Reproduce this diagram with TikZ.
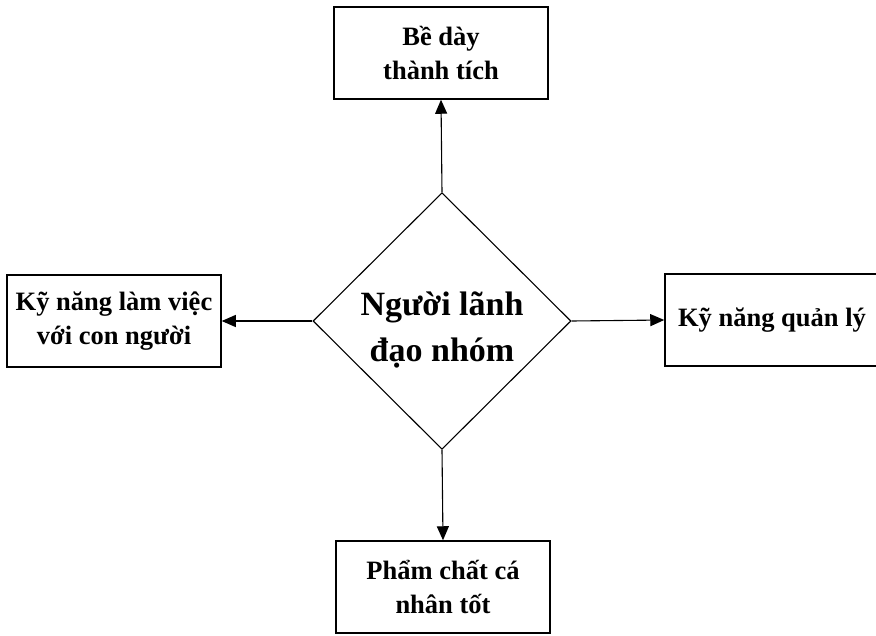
\documentclass[tikz,border=0pt]{standalone}
\usepackage{fontspec}
\setmainfont{Liberation Serif}
\usetikzlibrary{shapes.geometric,arrows.meta}
\begin{document}
\begin{tikzpicture}[x=1pt,y=-1pt,
  boxnode/.style={draw,line width=1.5pt,minimum width=214pt,minimum height=92pt,inner sep=0pt,align=center,font=\fontsize{26.5}{34}\selectfont\bfseries},
  centernode/.style={draw,shape=diamond,line width=1.1pt,minimum width=258pt,minimum height=256pt,inner sep=0pt,align=center,font=\fontsize{34}{46}\selectfont\bfseries},
  link/.style={line width=1.1pt,-{Triangle[length=14pt,width=12pt]}}]
\useasboundingbox (0,0) rectangle (876,635);
\node[centernode] (c) at (442,321) {\rule{0pt}{41pt}Người lãnh\\đạo nhóm};
\node[boxnode] (t) at (441,53) {Bề dày\\thành tích};
\node[boxnode] (l) at (114,321) {Kỹ năng làm việc\\với con người};
\node[boxnode] (r) at (772,320) {Kỹ năng quản lý};
\node[boxnode] (b) at (443,587) {Phẩm chất cá\\nhân tốt};
\draw[link] (c.north) -- (t.south);
\draw[link] (c.west) -- (l.east);
\draw[link] (c.east) -- (r.west);
\draw[link] (c.south) -- (b.north);
\end{tikzpicture}
\end{document}
